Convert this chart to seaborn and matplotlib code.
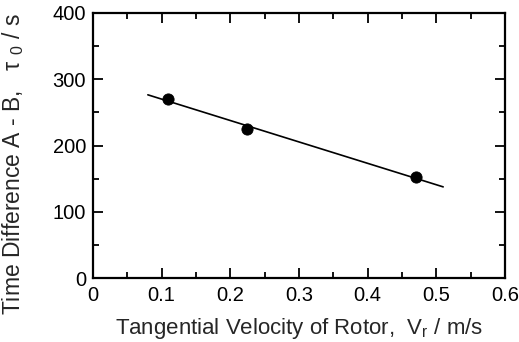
import numpy as np
import pandas as pd
import seaborn as sns
import matplotlib.pyplot as plt
from matplotlib.ticker import MultipleLocator

# data
velocity = [0.11, 0.225, 0.47]      # V_r / m/s
time_diff = [270, 225, 152]         # tau_0 / s
fit_range = [0.08, 0.51]            # extent of the fitted line

sns.set_style("ticks")
plt.rcParams['font.family'] = ['Liberation Sans', 'DejaVu Sans']
plt.rcParams['mathtext.default'] = 'regular'

df = pd.DataFrame({"v": velocity, "t": time_diff})
slope, intercept = np.polyfit(velocity, time_diff, 1)
line = pd.DataFrame({"v": fit_range})
line["t"] = slope * line["v"] + intercept

fig, ax = plt.subplots(figsize=(5.19, 3.42), dpi=100)
fig.subplots_adjust(left=0.179, right=0.973, top=0.962, bottom=0.187)

sns.lineplot(data=line, x="v", y="t", color="black", linewidth=1.2, ax=ax)
sns.scatterplot(data=df, x="v", y="t", color="black", s=65, edgecolor="black", zorder=3, ax=ax)

ax.set_xlim(0, 0.6)
ax.set_ylim(0, 400)
ax.xaxis.set_major_locator(MultipleLocator(0.1))
ax.xaxis.set_minor_locator(MultipleLocator(0.05))
ax.yaxis.set_major_locator(MultipleLocator(100))
ax.yaxis.set_minor_locator(MultipleLocator(50))
ax.xaxis.set_major_formatter(lambda x, pos: "0" if x == 0 else f"{x:.1f}")

ax.tick_params(which="both", direction="in", top=True, right=True, colors="black", labelsize=14.5)
ax.tick_params(axis="x", pad=6)
ax.tick_params(axis="y", pad=5)
ax.tick_params(which="major", length=7, width=1.3)
ax.tick_params(which="minor", length=4, width=1.3)
for s in ax.spines.values():
    s.set_linewidth(1.6)
    s.set_color("black")

ax.set_xlabel(r"Tangential Velocity of Rotor,  V$_r$ / m/s", fontsize=16, labelpad=8)
ax.set_ylabel(r"Time Difference A - B,   $\tau\ _0$ / s", fontsize=16.5)
ax.yaxis.set_label_coords(-0.163, 0.43)

fig.savefig("out.png", dpi=100)
